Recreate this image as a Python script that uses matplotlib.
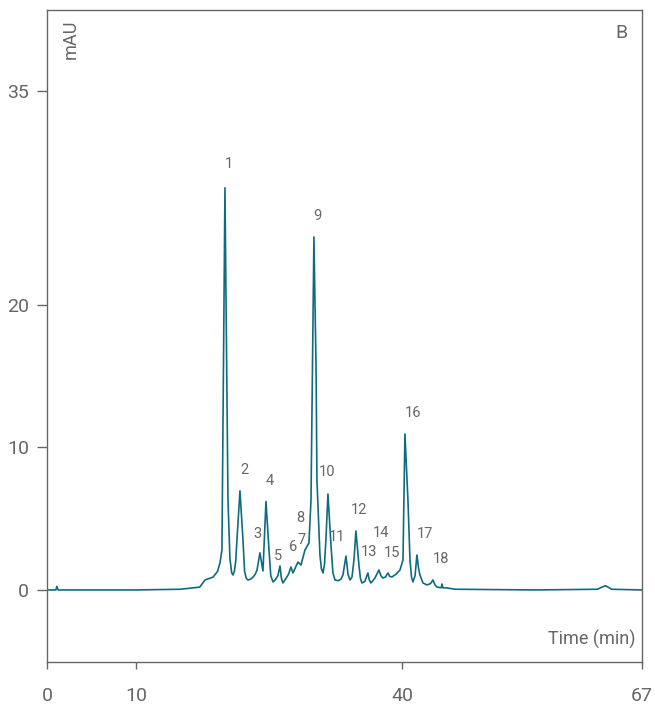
import numpy as np
import matplotlib.pyplot as plt

# trace points (time in min, signal in mAU)
time = [0.0, 1.0, 1.1, 1.25, 10.0, 15.0, 16.5, 17.2, 17.8, 18.7, 19.2,
        19.48, 19.7, 20.04, 20.38, 20.6, 20.8, 20.94, 21.1, 21.25,
        21.39, 21.73, 22.07, 22.25, 22.45, 22.63, 22.9, 23.2, 23.45,
        23.65, 23.98, 24.32, 24.66, 25.0, 25.2, 25.45, 25.7, 26.0,
        26.24, 26.4, 26.57, 26.9, 27.2, 27.47, 27.7, 28.26, 28.6, 29.05, 29.5,
        29.73, 30.06, 30.3, 30.4, 30.74, 30.9, 31.08, 31.25,
        31.41, 31.64, 31.98, 32.2, 32.43, 32.8, 33.1,
        33.33, 33.67, 33.9, 34.12, 34.35,
        34.57, 34.79, 35.13, 35.3, 35.47, 35.8,
        36.14, 36.3, 36.48, 36.9, 37.38, 37.6, 37.83, 38.1, 38.4, 38.6, 38.85,
        39.3, 39.75, 40.09,
        40.31, 40.65, 40.88, 41.05, 41.21, 41.45,
        41.66, 41.85, 42.0, 42.34, 42.8, 43.2,
        43.46, 43.7, 43.91, 44.4, 44.48, 44.6, 45.04,
        46.0, 55.0, 62.0, 62.5, 62.9, 63.6, 67.0]
signal = [0.0, 0.0, 0.25, 0.0, 0.0, 0.05, 0.15, 0.2, 0.7, 0.9, 1.3,
          1.9, 2.8, 28.2, 6.3, 2.2, 1.2, 1.05, 1.3, 2.0,
          3.5, 6.95, 3.5, 1.3, 0.8, 0.7, 0.75, 0.9, 1.1,
          1.4, 2.6, 1.33, 6.2, 2.8, 1.0, 0.56, 0.7, 1.0,
          1.68, 0.8, 0.49, 0.8, 1.1, 1.61, 1.19, 1.96, 1.75, 2.8, 3.3,
          6.3, 24.75, 15.6, 7.7, 2.45, 1.5, 1.19, 1.8,
          3.5, 6.73, 3.16, 1.2, 0.7, 0.65, 0.75,
          1.05, 2.38, 1.1, 0.7, 0.9,
          2.1, 4.14, 1.75, 0.8, 0.49, 0.6,
          1.19, 0.7, 0.49, 0.8, 1.4, 1.0, 0.84, 0.9, 1.19, 0.95, 0.91,
          1.1, 1.4, 2.1,
          10.94, 6.3, 2.1, 0.9, 0.56, 1.0,
          2.45, 1.5, 1.05, 0.49, 0.35, 0.45,
          0.7, 0.35, 0.21, 0.15, 0.42, 0.15, 0.14,
          0.05, 0.0, 0.05, 0.2, 0.3, 0.05, 0.0]

peak_labels = [str(i) for i in range(1, 19)]
label_t = [20.5, 22.2, 23.65, 25.1, 26.0, 27.7, 28.7, 28.5, 30.4,
           31.5, 32.65, 35.1, 36.25, 37.6, 38.85, 41.2, 42.55, 44.4]
label_v = [29.9, 8.4, 3.9, 7.65, 2.4, 3.0, 3.5, 5.05, 26.2,
           8.3, 3.7, 5.6, 2.65, 4.0, 2.6, 12.4, 3.9, 2.2]

xticks = [0, 10, 40, 67]
yticks = [0, 10, 20, 35]

plt.rcParams['font.family'] = ['Roboto', 'DejaVu Sans']
grey = '#666666'
teal = '#0f6b80'

fig = plt.figure(figsize=(6.55, 7.04), dpi=100)
ax = fig.add_axes([0.0718, 0.0597, 0.9082, 0.9261])

ax.plot(time, signal, color=teal, lw=1.2)

for lab, t, v in zip(peak_labels, label_t, label_v):
    ax.text(t, v, lab, ha='center', va='center', fontsize=10.5, color=grey)

ax.set_xlim(0, 67)
ax.set_ylim(-5.05, 40.67)
ax.set_xticks(xticks)
ax.set_yticks(yticks)
ax.tick_params(axis='x', direction='out', length=5, width=1, color=grey,
               pad=13, labelsize=14, labelcolor=grey)
ax.tick_params(axis='y', direction='out', length=7, width=1, color=grey,
               pad=6, labelsize=14, labelcolor=grey)
for s in ax.spines.values():
    s.set_color('#666666')
    s.set_linewidth(1)

ax.text(0.04, 0.985, 'mAU', transform=ax.transAxes, rotation=90,
        ha='center', va='top', fontsize=13, color=grey)
ax.text(0.965, 0.965, 'B', transform=ax.transAxes, ha='center', va='center',
        fontsize=14, color=grey)
ax.text(0.99, 0.035, 'Time (min)', transform=ax.transAxes, ha='right',
        va='center', fontsize=13, color=grey)

fig.savefig('out.png')
